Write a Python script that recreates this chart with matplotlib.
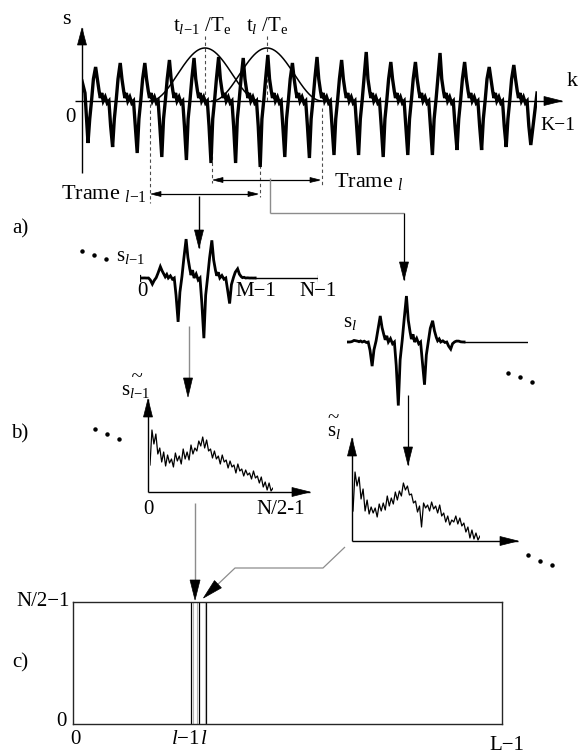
import numpy as np
import matplotlib
matplotlib.use("Agg")
import matplotlib.pyplot as plt
from matplotlib.patches import Polygon

plt.rcParams['font.family'] = ['Liberation Serif', 'DejaVu Serif']
plt.rcParams['mathtext.fontset'] = 'custom'
plt.rcParams['mathtext.rm'] = 'Liberation Serif'
plt.rcParams['mathtext.it'] = 'Liberation Serif:italic'
plt.rcParams['mathtext.bf'] = 'Liberation Serif:bold'

# ---------------------------------------------------------------- data
# voiced signal s[k]: height of each pitch peak and depth of each trough
peak_heights = [34, 38, 38, 41, 43, 44, 43, 46, 38, 44, 41, 49, 39, 39, 48, 39, 34, 36]
trough_depths = [42, 46, 52, 56, 59, 62, 62, 66, 56, 57, 54, 54, 56, 54, 54, 49, 49, 46, 44]
pitch_period = 24.6          # samples
first_trough = 6.0           # sample index of the first trough
K = 456                      # number of samples, k = 0 .. K-1

# shape of a period between two troughs: (phase, value); None = pitch peak
period_phase = [0.07, 0.15, 0.22, 0.31, 0.38, 0.45, 0.50, 0.56, 0.62, 0.70, 0.78, 0.85, 0.92]
period_shape = [-18, 2, 22, None, 22, 10, 3, 8, 0, 4, -2, 0, -25]
start_k, start_v = [0, 3], [20, 8]
end_v = 8

# analysis frames l-1 and l
frame_len = 110              # M
frame_starts = [68, 130]
fft_len = 171                # N (zero padded)

# magnitude spectra |S_{l-1}| and |S_l|, bins 0 .. N/2-1 (schematic)
spec_prev = [27, 62, 48, 58, 38, 44, 30, 40, 26, 37,
             29, 33, 25, 39, 31, 36, 28, 43, 33, 40,
             32, 47, 38, 44, 41, 51, 46, 55, 44, 52,
             41, 43, 34, 41, 33, 36, 28, 37, 30, 32,
             24, 31, 25, 27, 19, 28, 21, 23, 16, 22,
             17, 19, 13, 21, 14, 16, 9, 15, 5, 10,
             2, 9, 1, 4]
spec_cur = [30, 69, 55, 64, 42, 52, 30, 41, 27, 34,
            28, 33, 24, 37, 30, 38, 31, 45, 35, 43,
            37, 49, 41, 50, 45, 58, 51, 55, 46, 47,
            38, 40, 29, 35, 14, 38, 33, 36, 30, 39,
            32, 35, 28, 36, 25, 28, 19, 25, 16, 21,
            19, 25, 17, 23, 15, 18, 9, 14, 3, 11,
            2, 8, 1, 5]

# spectrogram plane
n_frames = 58                # L
frame_l = 17

# ---------------------------------------------------------------- signal
k_pts, v_pts = list(start_k), list(start_v)
for i, depth in enumerate(trough_depths):
    kt = first_trough + i * pitch_period
    k_pts.append(kt)
    v_pts.append(-depth)
    if i < len(peak_heights):
        for ph, val in zip(period_phase, period_shape):
            k_pts.append(kt + ph * pitch_period)
            v_pts.append(peak_heights[i] if val is None else val)
k_pts.append(K - 1)
v_pts.append(end_v)
k_pts = np.array(k_pts)
v_pts = np.array(v_pts, float)


def hann(n, length):
    return 0.5 - 0.5 * np.cos(2 * np.pi * n / length)


def windowed_frame(start):
    sel = (k_pts > start) & (k_pts < start + frame_len)
    n = k_pts[sel] - start
    vals = v_pts[sel] * hann(n, frame_len)
    return (np.concatenate([[0], n, [frame_len]]),
            np.concatenate([[0], vals, [0]]))


# ---------------------------------------------------------------- figure
W, H = 579, 755
fig = plt.figure(figsize=(W / 100, H / 100), dpi=100)
fig.patch.set_facecolor('white')
ov = fig.add_axes([0, 0, 1, 1], zorder=0)
ov.set_xlim(0, W)
ov.set_ylim(H, 0)
ov.axis('off')


def panel(x0, y0, x1, y1, xlim, ylim, z=1):
    a = fig.add_axes([x0 / W, 1 - y1 / H, (x1 - x0) / W, (y1 - y0) / H], zorder=z)
    a.set_xlim(*xlim)
    a.set_ylim(*ylim)
    a.axis('off')
    return a


def seg(xs, ys, color='k', lw=1.0, ls='-'):
    ov.plot(xs, ys, color=color, lw=lw, ls=ls, solid_capstyle='butt', zorder=2)


def head(tip, frm, length=17, width=9, color='k'):
    tip = np.array(tip, float)
    d = tip - np.array(frm, float)
    d /= np.hypot(*d)
    nrm = np.array([-d[1], d[0]])
    b = tip - d * length
    ov.add_patch(Polygon([tip, b + nrm * width / 2, b - nrm * width / 2],
                         closed=True, fc=color, ec=color, lw=0.5, zorder=3))


def arrow(xs, ys, length=17, width=9, color='k', lw=1.0):
    seg(xs, ys, color=color, lw=lw)
    head((xs[-1], ys[-1]), (xs[-2], ys[-2]), length, width)


def dots(pts):
    xs, ys = zip(*pts)
    ov.plot(xs, ys, ls='none', marker='o', ms=2.2, color='k', zorder=3)


def label(x, y, s, size=15, ha='center', va='center', **kw):
    ov.text(x, y, s, fontsize=size, ha=ha, va=va, zorder=4, **kw)


DASH = (0, (3, 2.5))
GREY = '0.55'

# ----- top: signal s[k] with the two analysis windows
top_x0, top_x1 = 82, 537
ax_top = panel(top_x0, 21, top_x1, 181, (0, K - 1), (-80, 80))
ax_top.plot(k_pts, v_pts, color='k', lw=2.4, solid_joinstyle='miter')


def k2px(k):
    return top_x0 + k * (top_x1 - top_x0) / (K - 1)


win_height = 53
for st in frame_starts:
    n = np.linspace(0, frame_len, 200)
    ax_top.plot(st + n, win_height * hann(n, frame_len), color='k', lw=1.1)

arrow([82, 82], [173, 28], length=17, width=9)
arrow([75, 562], [101, 101], length=18, width=9)
label(66, 19, 's', size=16)
label(70, 118, '0')
label(558, 126, 'K\u22121', size=14)
label(572, 82, 'k', size=16)

p_prev, p_cur = k2px(frame_starts[0]), k2px(frame_starts[1])
e_prev, e_cur = k2px(frame_starts[0] + frame_len), k2px(frame_starts[1] + frame_len)
c_prev = k2px(frame_starts[0] + frame_len / 2)
c_cur = k2px(frame_starts[1] + frame_len / 2)

seg([c_prev, c_prev], [36, 101], color='0.3', lw=0.8, ls=DASH)
seg([c_cur, c_cur], [36, 101], color='0.3', lw=0.8, ls=DASH)
label(c_prev - 3, 25, r't$_{l\mathrm{-}1}$ /T$_\mathrm{e}$', size=15)
label(c_cur, 25, r't$_l$ /T$_\mathrm{e}$', size=15)

seg([p_prev, p_prev], [104, 203], color='0.3', lw=0.8, ls=DASH)
seg([p_cur, p_cur], [150, 183], color='0.3', lw=0.8, ls=DASH)
seg([e_prev, e_prev], [165, 197], color='0.3', lw=0.8, ls=DASH)
seg([e_cur, e_cur], [108, 186], color='0.3', lw=0.8, ls=DASH)

# frame extents
yf_prev, yf_cur = 194, 180
seg([p_prev + 4, e_prev - 4], [yf_prev, yf_prev], lw=0.9)
head((p_prev + 1, yf_prev), (e_prev, yf_prev), 10, 5)
head((e_prev - 2, yf_prev), (p_prev, yf_prev), 10, 5)
seg([p_cur + 4, e_cur - 4], [yf_cur, yf_cur], lw=0.9)
head((p_cur + 1, yf_cur), (e_cur, yf_cur), 10, 5)
head((e_cur - 2, yf_cur), (p_cur, yf_cur), 10, 5)
label(61, 193, r'Trame $_{l\mathrm{-}1}$', size=16, ha='left')
label(334, 181, r'Trame $_l$', size=16, ha='left')

# ----- a) windowed, zero padded frames
label(20, 229, 'a)')

# frame l-1
arrow([199, 199], [196, 248], length=18, width=9)
ax_sp = panel(140, 198, 318, 358, (0, fft_len - 1), (-80, 80))
n_prev, f_prev = windowed_frame(frame_starts[0])
ax_sp.plot(n_prev, f_prev, color='k', lw=2.0, solid_joinstyle='miter')
ax_sp.plot([frame_len, fft_len - 1], [0, 0], color='k', lw=1.0)
for t in (0, fft_len - 1):
    ax_sp.plot([t, t], [-3, 3], color='k', lw=0.9)
label(131, 257, r's$_{l\mathrm{-}1}$')
dots([(82, 251), (94, 255), (106, 259)])
label(142, 291, '0')
label(256, 291, 'M\u22121')
label(318, 291, 'N\u22121')

# frame l
seg([270, 270], [178, 213], color=GREY, lw=1.0)
seg([270, 404], [213, 213], color=GREY, lw=1.0)
arrow([404, 404], [213, 280], length=18, width=9, lw=0.9)
ax_sc = panel(347, 262, 528, 422, (0, fft_len - 1), (-80, 80))
n_cur, f_cur = windowed_frame(frame_starts[1])
ax_sc.plot(n_cur, f_cur, color='k', lw=2.0, solid_joinstyle='miter')
ax_sc.plot([frame_len, fft_len - 1], [0, 0], color='k', lw=1.0)
label(350, 322, r's$_l$')
dots([(508, 373), (520, 377), (532, 382)])

# ----- b) magnitude spectra
label(20, 434, 'b)')

seg([189, 189], [326, 378], color=GREY, lw=1.0)
head((188, 397), (188, 370), 19, 9)
ax_fp = panel(150, 412, 273, 492, (0, len(spec_prev) - 1), (0, 80))
ax_fp.plot(np.arange(len(spec_prev)), spec_prev, color='k', lw=0.9)
arrow([148, 148], [492, 399], length=18, width=9, lw=1.0)
arrow([148, 310], [492, 492], length=18, width=9, lw=1.0)
label(121, 384, '  ~\n' + r's$_{l\mathrm{-}1}$', ha='left', linespacing=0.55)
dots([(95, 429), (107, 434), (119, 439)])
label(148, 510, '0')
label(281, 510, r'N/2-1')

arrow([408, 408], [395, 465], length=18, width=9, lw=0.9)
ax_fc = panel(353, 461, 480, 541, (0, len(spec_cur) - 1), (0, 80))
ax_fc.plot(np.arange(len(spec_cur)), spec_cur, color='k', lw=0.9)
arrow([352, 352], [541, 438], length=18, width=9, lw=1.0)
arrow([352, 518], [541, 541], length=18, width=9, lw=1.0)
label(327, 425, '~\n' + r's$_l$', ha='left', linespacing=0.55)
dots([(528, 555), (540, 561), (552, 565)])

# ----- c) time-frequency plane
rx0, ry0, rx1, ry1 = 73, 602, 502, 724
ax_c = panel(rx0, ry0, rx1, ry1, (0, n_frames), (0, 1))
ax_c.axis('on')
ax_c.set_xticks([])
ax_c.set_yticks([])
ax_c.patch.set_alpha(0)
for sp in ax_c.spines.values():
    sp.set_linewidth(1.0)
    sp.set_color('0.15')
for xv in (frame_l - 1, frame_l, frame_l + 1):
    ax_c.axvline(xv, color='k', lw=0.9)
for xv in (frame_l - 0.8, frame_l - 0.2, frame_l + 0.8):
    ax_c.axvline(xv, color='0.7', lw=0.8)


def f2px(i):
    return rx0 + i * (rx1 - rx0) / n_frames


label(20, 663, 'c)')
label(70, 601, 'N/2\u22121', ha='right')
label(61, 722, '0')
label(75, 740, '0')
label(f2px(frame_l - 0.5) - 10, 740, r'$l\mathrm{-}1$')
label(f2px(frame_l) + 5, 740, r'$l$')
label(507, 745, 'L\u22121')

# spectrum of frame l-1 -> column l-1
seg([195, 195], [503, 585], color=GREY, lw=1.0)
head((f2px(frame_l - 0.5), 600), (f2px(frame_l - 0.5), 570), 20, 10)
# spectrum of frame l -> column l
seg([345, 323, 235, 215], [547, 568, 568, 587], color=GREY, lw=0.9)
head((f2px(frame_l + 0.5) + 1, 598), (235, 568), 20, 10)

fig.savefig('out.png', dpi=100, facecolor='white')
